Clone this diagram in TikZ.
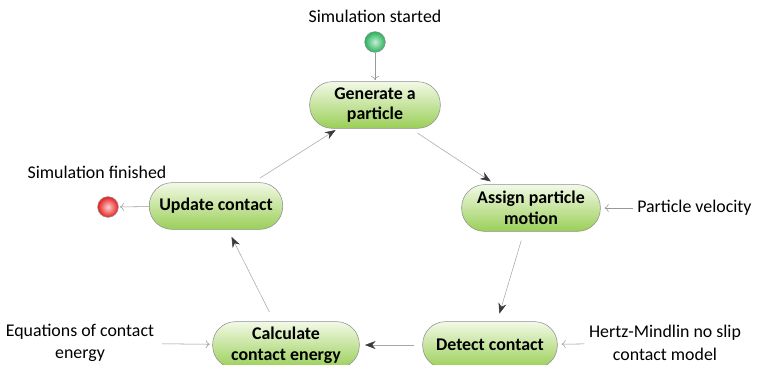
\documentclass[tikz,border=0pt]{standalone}
\usepackage{fontspec}
\setmainfont{Carlito}
\usetikzlibrary{arrows.meta,positioning}
\definecolor{LeafTop}{HTML}{F2F9E6}
\definecolor{LeafBot}{HTML}{9ACF57}
\definecolor{EdgeGrey}{HTML}{8E8E8E}
\definecolor{TipDark}{HTML}{3A3A3A}
\definecolor{StartGreen}{HTML}{27B35A}
\definecolor{StopRed}{HTML}{E81E1E}

\tikzset{
  stepbox/.style={draw=EdgeGrey,rounded corners=17pt,top color=LeafTop,bottom color=LeafBot,
    minimum height=35pt,align=center,font=\fontsize{13.4}{15.5}\selectfont\bfseries,inner sep=2pt},
  note/.style={align=center,font=\fontsize{13.4}{17}\selectfont},
  flow/.style={draw=gray!70,-{Stealth[length=8pt,width=6pt,color=TipDark]}},
  feed/.style={draw=gray!80,-{To[length=3pt,width=6pt]}}
}

\begin{document}
\begin{tikzpicture}[x=0.75pt,y=-0.75pt]
\useasboundingbox (0,0) rectangle (759,364);

\node[stepbox,minimum width=98pt] (gen) at (375,105) {Generate a\\particle};
\node[stepbox,minimum width=104pt] (assign) at (531,208) {Assign particle\\motion};
\node[stepbox,minimum width=101pt] (detect) at (490,345) {Detect contact};
\node[stepbox,minimum width=110pt] (calc) at (286,345) {Calculate\\contact energy};
\node[stepbox,minimum width=100pt] (update) at (216,206) {Update contact};

\node[circle,draw=EdgeGrey,inner sep=0pt,minimum size=15.5pt,
      inner color=StartGreen!25,outer color=StartGreen] (start) at (375,42) {};
\node[circle,draw=EdgeGrey,inner sep=0pt,minimum size=15.5pt,
      inner color=StopRed!20,outer color=StopRed] (finish) at (108,207) {};

\node[note] (startlbl) at (375,16) {Simulation started};
\node[note] (finishlbl) at (97,172) {Simulation finished};
\node[note,right=24pt of assign] (vel) {Particle velocity};
\node[note] (eqs) at (80,343) {Equations of contact\\energy};
\node[note] (hertz) at (665,343) {Hertz-Mindlin no slip\\contact model};

% main cycle
\draw[flow,shorten <=6pt,shorten >=4pt] (gen) -- (assign);
\draw[flow,shorten <=7pt,shorten >=6pt] (assign) -- (detect);
\draw[flow,shorten <=6pt,shorten >=4pt] (detect) -- (calc);
\draw[flow,shorten <=8pt,shorten >=6pt] (calc) -- (update);
\draw[flow,shorten <=6pt,shorten >=2pt] (update) -- (gen);

% inputs and ends
\draw[feed,shorten >=1pt] (start) -- (gen);
\draw[feed,shorten >=1pt] (update) -- (finish);
\draw[feed,shorten >=3pt] (vel) -- (assign);
\draw[feed,shorten <=2pt,shorten >=2pt] (eqs) -- (calc);
\draw[feed,shorten >=3pt] (hertz) -- (detect);
\end{tikzpicture}
\end{document}
